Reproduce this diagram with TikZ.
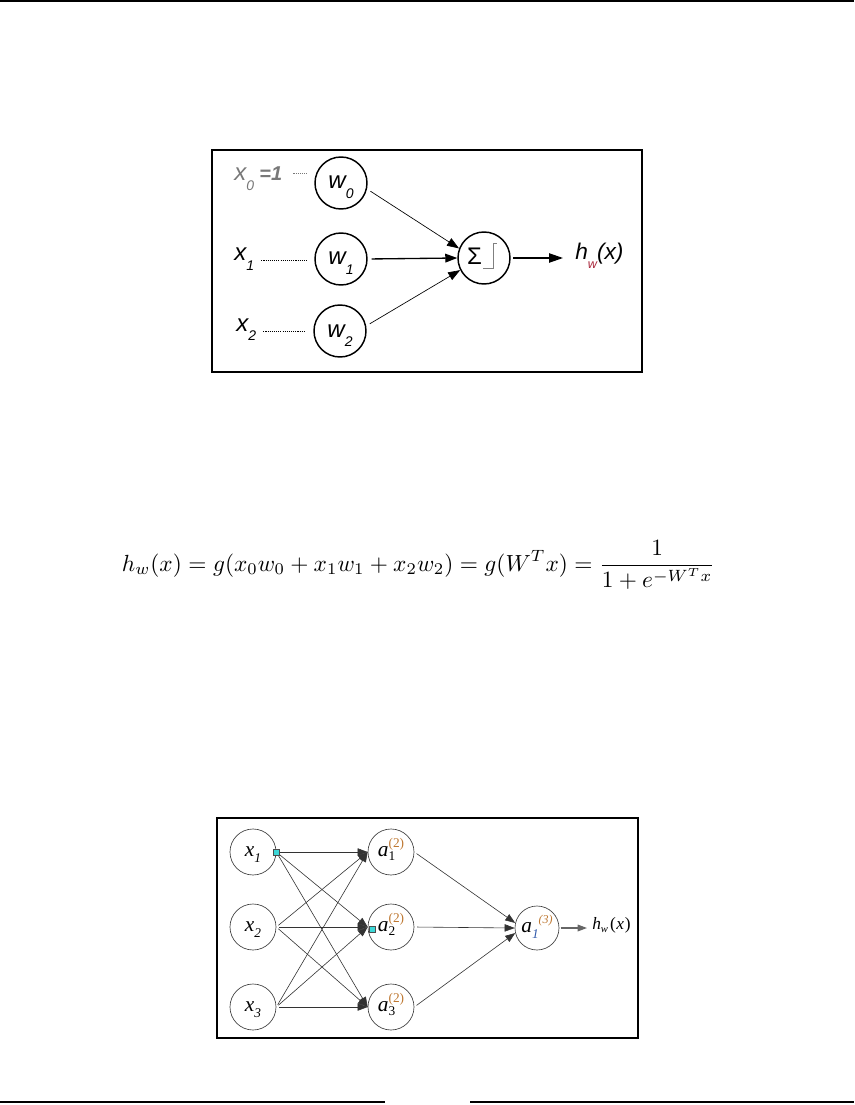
\documentclass[tikz,border=0pt]{standalone}
\usepackage[no-math]{fontspec}
\usepackage{graphicx}
\usetikzlibrary{arrows.meta,calc}
\newfontfamily\arialf{Liberation Sans}
\newfontfamily\timesf{Liberation Serif}
\definecolor{subred}{RGB}{170,40,60}
\definecolor{suporange}{RGB}{190,120,50}
\definecolor{subblue}{RGB}{50,90,170}
\definecolor{sqcyan}{RGB}{60,215,215}
\definecolor{labgray}{RGB}{120,120,120}
\newcommand{\lsub}[1]{\raisebox{-7pt}{\fontsize{10.5}{10.5}\selectfont #1}}
\newcommand{\tsub}[1]{\raisebox{-4.5pt}{\fontsize{10}{10}\selectfont #1}}
\newcommand{\supsubs}[3]{#1\makebox[0pt][l]{\raisebox{-3.5pt}{\fontsize{10}{10}\selectfont #3}}\raisebox{6.5pt}{\fontsize{10}{10}\selectfont #2}}
\tikzset{
  wcirc/.style={circle, draw, line width=1.1pt, minimum size=39pt, inner sep=0pt,
    text height=12pt, text depth=3pt, font=\arialf\itshape\fontsize{18}{20}\selectfont},
  toplab/.style={inner sep=0pt, font=\arialf\itshape\fontsize{18}{20}\selectfont},
  dotl/.style={line width=0.5pt, dash pattern=on 0.8pt off 0.8pt},
  tarr/.style={-{Triangle[length=9pt,width=6.5pt]}, shorten <=3pt},
  bcirc/.style={circle, draw=black!75, line width=0.5pt, minimum size=34.5pt, inner sep=0pt,
    text height=9pt, text depth=3pt, font=\timesf\fontsize{16}{18}\selectfont},
  barr/.style={draw=black!80, line width=0.45pt, -{Triangle[length=7.5pt,width=5.5pt]}, shorten <=2pt},
  sq/.style={rectangle, draw=black!70, fill=sqcyan, minimum size=4.5pt, inner sep=0pt, line width=0.4pt},
  frame/.style={line width=1.5pt}
}
\begin{document}
\begin{tikzpicture}[x=0.75pt,y=-0.75pt]
\path[use as bounding box] (0,0) rectangle (854,1105);
% page rules
\draw[line width=1.5pt] (0,1) -- (854,1);
\draw[line width=1.2pt] (0,1102) -- (385,1102);
\draw[line width=1.2pt] (470,1102) -- (854,1102);

% ---------- top diagram ----------
\draw[frame] (212,150) rectangle (642,372);
\node[wcirc] (w0) at (341,183) {w\lsub{0}};
\node[wcirc] (w1) at (341,259) {w\lsub{1}};
\node[wcirc] (w2) at (340,331) {w\lsub{2}};
\node[circle, draw, line width=1.1pt, minimum size=39pt, inner sep=0pt] (sum) at (484,258) {};
\node[inner sep=0pt, font=\arialf\fontsize{18}{18}\selectfont] (sig) at (474.5,256) {Σ};
\draw[gray, line width=0.6pt] ($(sum.center)+(-1,10)$) -- ++(10,0) -- ++(0,-25) -- ++(4,0);

\node[toplab, anchor=base west, text=labgray] (x0lab) at (234,181) {x\lsub{0}\hspace{4pt}{\fontsize{15}{15}\selectfont\bfseries =1}};
\node[toplab, anchor=base west] (x1lab) at (234,261) {x\lsub{1}};
\node[toplab, anchor=base west] (x2lab) at (236,331) {x\lsub{2}};

\draw[dotl, labgray] ($(x0lab.east |- w0.west)+(11,-10)$) -- ($(w0.west)+(-6,-10)$);
\draw[dotl] ($(x1lab.east |- w1.west)+(7,1)$) -- ($(w1.west)+(-8,1)$);
\draw[dotl] ($(x2lab.east |- w2.west)+(7,0)$) -- ($(w2.west)+(-8,0)$);

\draw[tarr, line width=0.5pt] (w0.-13) -- (sum.159);
\draw[tarr, line width=1pt] (w1.east) -- (sum.west);
\draw[tarr, line width=0.5pt] (w2.11) -- (sum.207);

\node[toplab, anchor=base west, font=\arialf\itshape\fontsize{17}{19}\selectfont] (hlab) at (575,260) {h\raisebox{-6.5pt}{\fontsize{9.5}{9.5}\selectfont\color{subred}w}(x)};
\draw[line width=1pt, -{Triangle[length=10.5pt,width=7pt]}, shorten <=2pt] (sum.east) -- ($(sum.east -| hlab.west)+(-12,0)$);

% ---------- equation ----------
\node[inner sep=0pt] (eq) at (418.5,565) {\resizebox{445pt}{!}{$\displaystyle h_w(x) = g(x_0w_0+x_1w_1+x_2w_2) = g(W^Tx) = \frac{1}{1+e^{-W^Tx}}$}};

% ---------- bottom diagram ----------
\draw[frame] (217,818) rectangle (638,1038);
\node[bcirc] (x1) at (253,852) {\textit{x}\tsub{\textit{1}}\hspace{5pt}};
\node[bcirc] (x2) at (253,927) {\textit{x}\tsub{\textit{2}}\hspace{5pt}};
\node[bcirc] (x3) at (253,1007) {\textit{x}\tsub{\textit{3}}\hspace{5pt}};
\node[bcirc] (a1) at (391,852) {\supsubs{\textit{a}}{\color{suporange}(2)}{1}};
\node[bcirc] (a2) at (391,927) {\supsubs{\textit{a}}{\color{suporange}(2)}{2}};
\node[bcirc] (a3) at (391,1007) {\supsubs{\textit{a}}{\color{suporange}(2)}{3}};
\node[bcirc, minimum size=33pt] (o) at (537,928) {\textit{a}\raisebox{-4.5pt}{\fontsize{10}{10}\selectfont\itshape\color{subblue}1}\raisebox{6.5pt}{\fontsize{9}{9}\selectfont\itshape\color{suporange}(3)}};

\foreach \i in {1,2,3} {
  \foreach \j in {1,2,3} {
    \draw[barr] (x\i.east) -- (a\j.west);
  }
}
\draw[barr] (a1.east) -- (o.167);
\draw[barr] (a2.east) -- (o.west);
\draw[barr] (a3.east) -- (o.193);

\node[anchor=base west, inner sep=0pt, font=\timesf\fontsize{13}{15}\selectfont] (hlab2) at (592,929) {\textit{h}\raisebox{-2.5pt}{\fontsize{8}{8}\selectfont\textit{w}}\hspace{1.5pt}(\hspace{0.5pt}\textit{x}\hspace{0.5pt})};
\draw[draw=black!60, line width=0.9pt, -{Triangle[length=7pt,width=5pt]}, shorten <=1pt] (o.east) -- ($(o.east -| hlab2.west)+(-5,0)$);

\node[sq] (s1) at (x1.east) {};
\node[sq] (s2) at ($(a2.west)+(5,2)$) {};
\end{tikzpicture}
\end{document}
